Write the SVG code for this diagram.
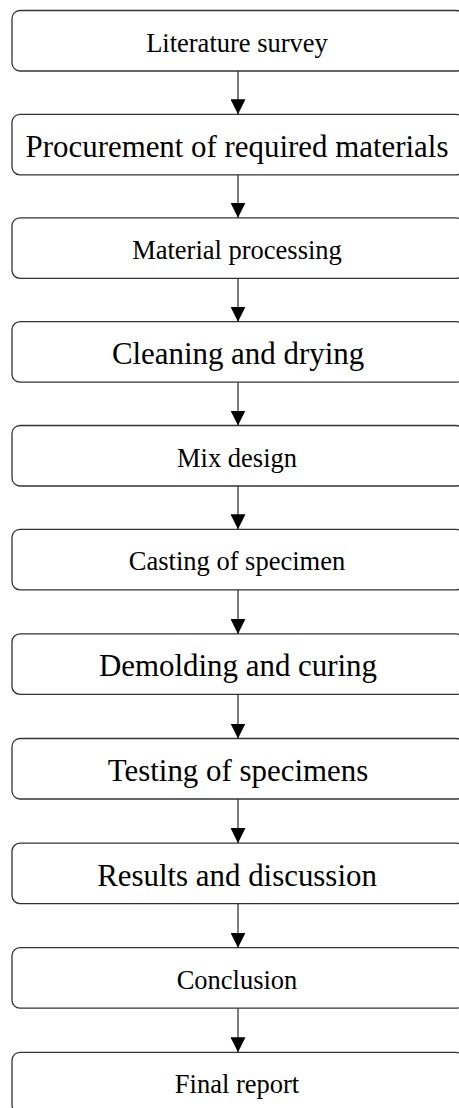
<svg xmlns="http://www.w3.org/2000/svg" width="459" height="1108" viewBox="0 0 459 1108">
<defs>
<style>
.box{fill:#fff;stroke:#333;stroke-width:1.3}
.lbl{font-family:"Liberation Serif","Times New Roman",serif;font-size:26.5px;fill:#000;text-anchor:middle}
.big{font-size:30.9px}
.con{stroke:#333;stroke-width:1.3;fill:none}
</style>
<marker id="ah" viewBox="0 0 15 15" refX="15" refY="7.5" markerWidth="15" markerHeight="15" markerUnits="userSpaceOnUse" orient="auto">
<path d="M0,0 L15,7.5 L0,15 Z" fill="#000"/>
</marker>
</defs>
<rect width="459" height="1108" fill="#fff"/>
<g id="n1"><rect class="box" x="12" y="10.5" width="452" height="60.5" rx="8"/><text class="lbl" x="237" y="51.5">Literature survey</text></g>
<g id="n2"><rect class="box" x="12" y="114.3" width="452" height="60.5" rx="8"/><text class="lbl big" x="237" y="156.7">Procurement of required materials</text></g>
<g id="n3"><rect class="box" x="12" y="217.8" width="452" height="60.5" rx="8"/><text class="lbl" x="237" y="258.8">Material processing</text></g>
<g id="n4"><rect class="box" x="12" y="321.7" width="452" height="60.5" rx="8"/><text class="lbl big" x="238" y="364.1">Cleaning and drying</text></g>
<g id="n5"><rect class="box" x="12" y="425.5" width="452" height="60.5" rx="8"/><text class="lbl" x="237" y="466.5">Mix design</text></g>
<g id="n6"><rect class="box" x="12" y="529.3" width="452" height="60.5" rx="8"/><text class="lbl" x="237" y="570.3">Casting of specimen</text></g>
<g id="n7"><rect class="box" x="12" y="633.9" width="452" height="60.5" rx="8"/><text class="lbl big" x="238" y="676.3">Demolding and curing</text></g>
<g id="n8"><rect class="box" x="12" y="738.5" width="452" height="60.5" rx="8"/><text class="lbl big" x="238" y="780.9">Testing of specimens</text></g>
<g id="n9"><rect class="box" x="12" y="843.1" width="452" height="60.5" rx="8"/><text class="lbl big" x="237" y="885.5">Results and discussion</text></g>
<g id="n10"><rect class="box" x="12" y="947.7" width="452" height="60.5" rx="8"/><text class="lbl" x="237" y="988.7">Conclusion</text></g>
<g id="n11"><rect class="box" x="12" y="1052.3" width="452" height="60.5" rx="8"/><text class="lbl" x="237" y="1093.3">Final report</text></g>
<g id="connectors">
<line class="con" x1="238" y1="71" x2="238" y2="114.3" marker-end="url(#ah)"/>
<line class="con" x1="238" y1="174.8" x2="238" y2="217.8" marker-end="url(#ah)"/>
<line class="con" x1="238" y1="278.3" x2="238" y2="321.7" marker-end="url(#ah)"/>
<line class="con" x1="238" y1="382.2" x2="238" y2="425.5" marker-end="url(#ah)"/>
<line class="con" x1="238" y1="486" x2="238" y2="529.3" marker-end="url(#ah)"/>
<line class="con" x1="238" y1="589.8" x2="238" y2="633.9" marker-end="url(#ah)"/>
<line class="con" x1="238" y1="694.4" x2="238" y2="738.5" marker-end="url(#ah)"/>
<line class="con" x1="238" y1="799" x2="238" y2="843.1" marker-end="url(#ah)"/>
<line class="con" x1="238" y1="903.6" x2="238" y2="947.7" marker-end="url(#ah)"/>
<line class="con" x1="238" y1="1008.2" x2="238" y2="1052.3" marker-end="url(#ah)"/>
</g>
</svg>
